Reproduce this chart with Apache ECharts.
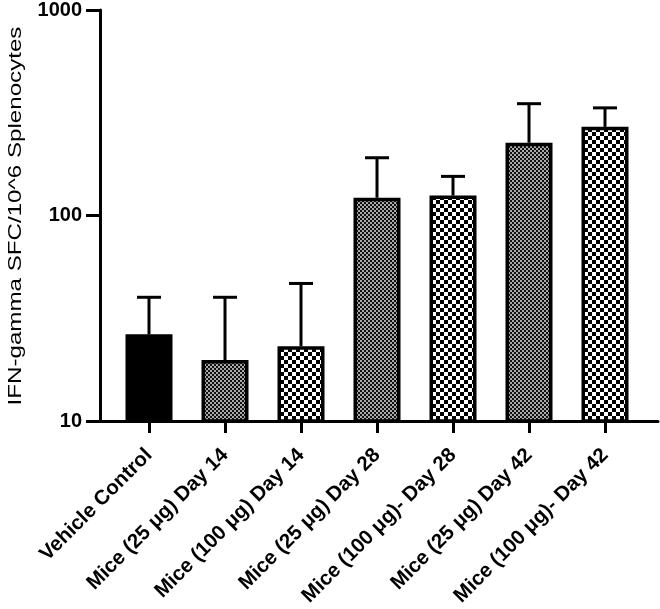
<!DOCTYPE html>
<html><head><meta charset="utf-8">
<script src="https://cdn.jsdelivr.net/npm/echarts@6/dist/echarts.min.js"></script>
<style>html,body{margin:0;padding:0;background:#fff}#c{width:660px;height:609px}</style>
</head><body><div id="c"></div>
<script>
const categories = ['Vehicle Control','Mice (25 μg) Day 14','Mice (100 μg) Day 14','Mice (25 μg) Day 28','Mice (100 μg)- Day 28','Mice (25 μg) Day 42','Mice (100 μg)- Day 42'];
const means = [26.4, 19.8, 23.1, 122, 125, 226, 270];
const errorTops = [40, 40, 46.7, 191, 155, 350, 334];
const yTicks = [10, 100, 1000];
const yTitle = 'IFN-gamma SFC/10^6 Splenocytes';

function checker(cell, bg, fg) {
  const cv = document.createElement('canvas');
  cv.width = cv.height = cell * 2;
  const ctx = cv.getContext('2d');
  ctx.fillStyle = bg; ctx.fillRect(0, 0, cell * 2, cell * 2);
  ctx.fillStyle = fg; ctx.fillRect(0, 0, cell, cell); ctx.fillRect(cell, cell, cell, cell);
  return cv;
}
const finePat = { image: checker(2, '#111', '#a8a8a8'), repeat: 'repeat' };
const coarsePat = { image: checker(4, '#000', '#fff'), repeat: 'repeat' };
function fillFor(i) { return i === 0 ? '#000' : (i % 2 === 1 ? finePat : coarsePat); }

const FONT = '"Liberation Sans", Arial, sans-serif';
const chart = echarts.init(document.getElementById('c'), null, { renderer: 'canvas' });
chart.setOption({
  animation: false,
  backgroundColor: '#fff',
  grid: [
    { left: 111, width: 532, top: 9, bottom: 188 },
    { left: 100, right: 2, top: 9, bottom: 188 }
  ],
  xAxis: [
    { type: 'category', gridIndex: 0, data: categories,
      axisLine: { show: true, lineStyle: { color: '#000', width: 3 } },
      axisTick: { show: true, alignWithLabel: true, length: 12, lineStyle: { color: '#000', width: 3 } },
      axisLabel: { interval: 0, rotate: 45, margin: 31, color: '#000', fontWeight: 'bold', fontSize: 20.5, fontFamily: FONT },
      splitLine: { show: false } },
    { type: 'value', gridIndex: 1, min: 0, max: 1,
      axisLine: { show: true, lineStyle: { color: '#000', width: 3 } },
      axisTick: { show: false }, axisLabel: { show: false }, splitLine: { show: false } }
  ],
  yAxis: [
    { type: 'log', gridIndex: 0, logBase: 10, min: yTicks[0], max: yTicks[yTicks.length - 1], offset: 11,
      axisLine: { show: true, lineStyle: { color: '#000', width: 3 } },
      axisTick: { show: true, length: 14, lineStyle: { color: '#000', width: 3 } },
      minorTick: { show: false },
      axisLabel: { margin: 18, color: '#000', fontWeight: 'bold', fontSize: 20, fontFamily: FONT,
        formatter: v => yTicks.includes(Math.round(v)) ? String(Math.round(v)) : '' },
      splitLine: { show: false } },
    { type: 'value', gridIndex: 1, show: false }
  ],
  graphic: [{
    type: 'text', x: 16, y: 216, rotation: Math.PI / 2, scaleX: 1.27,
    style: { text: yTitle, fontSize: 19, fontFamily: FONT, fill: '#000',
      textAlign: 'center', textVerticalAlign: 'middle', align: 'center', verticalAlign: 'middle' }
  }],
  series: [
    { type: 'bar', xAxisIndex: 0, yAxisIndex: 0, barWidth: 47,
      data: means.map((v, i) => ({ value: v, itemStyle: { color: fillFor(i) } })),
      itemStyle: { borderColor: '#000', borderWidth: 3.5 } },
    { type: 'custom', xAxisIndex: 0, yAxisIndex: 0, z: 3,
      data: categories.map((c, i) => [i, means[i], errorTops[i]]),
      renderItem: function (params, api) {
        const b = api.coord([api.value(0), api.value(1)]);
        const t = api.coord([api.value(0), api.value(2)]);
        const half = 12;
        return { type: 'group', children: [
          { type: 'line', shape: { x1: b[0], y1: b[1], x2: t[0], y2: t[1] }, style: { stroke: '#000', lineWidth: 3 } },
          { type: 'line', shape: { x1: t[0] - half, y1: t[1], x2: t[0] + half, y2: t[1] }, style: { stroke: '#000', lineWidth: 3 } }
        ] };
      } }
  ]
});
</script></body></html>
